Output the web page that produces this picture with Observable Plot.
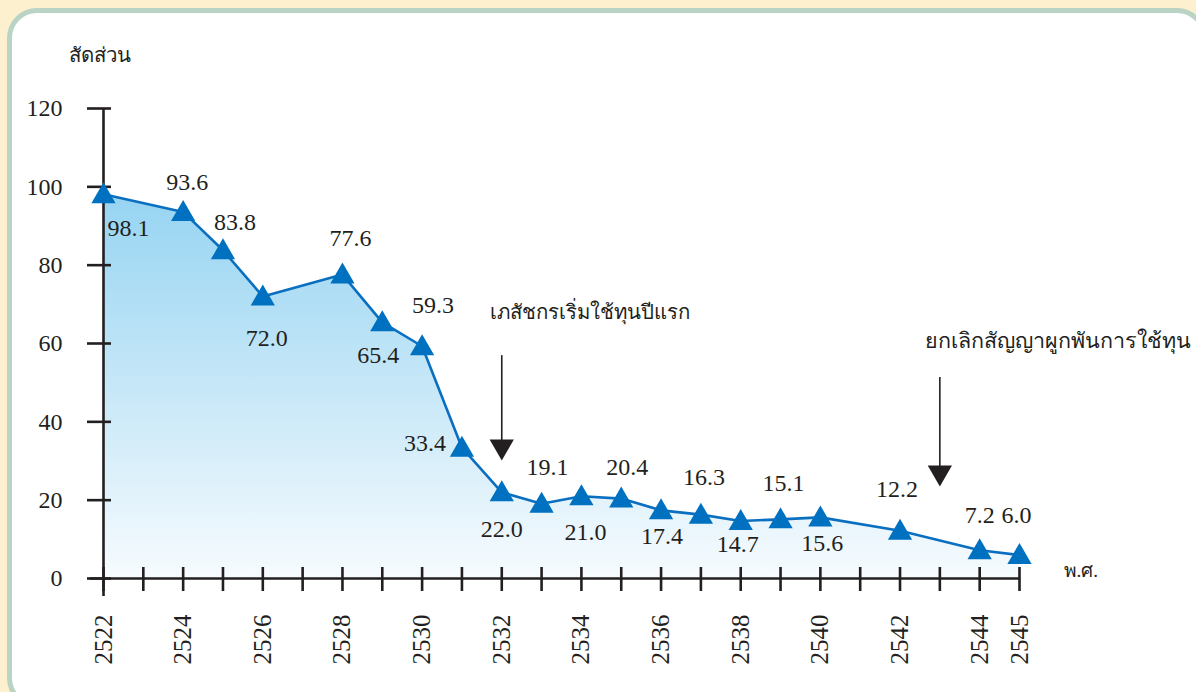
<!DOCTYPE html>
<html><head><meta charset="utf-8">
<script src="https://cdn.jsdelivr.net/npm/d3@7"></script>
<script src="https://cdn.jsdelivr.net/npm/@observablehq/plot@0.6"></script>
<style>
html,body{margin:0;padding:0;background:#fdf0cf;width:1196px;height:692px;overflow:hidden;}
#frame{position:absolute;left:7px;top:8px;width:1200px;height:700px;box-sizing:border-box;border:5px solid #b9d4c4;border-radius:30px;background:#fff;}
#chart{position:absolute;left:0;top:0;}
#chart svg{overflow:visible;}
#chart svg text{font-family:"Liberation Serif","DejaVu Serif",serif !important;}
</style></head><body><div id="frame"></div><div id="chart"></div>
<script>
// ---- data ----
const years  = [2522,2524,2525,2526,2528,2529,2530,2531,2532,2533,2534,2535,2536,2537,2538,2539,2540,2542,2544,2545];
const ratios = [98.1,93.6,83.8,72.0,77.6,65.4,59.3,33.4,22.0,19.1,21.0,20.4,17.4,16.3,14.7,15.1,15.6,12.2,7.2,6.0];
const yTicks = [0,20,40,60,80,100,120];
const xTickMarks = [2522,2523,2524,2525,2526,2527,2528,2529,2530,2531,2532,2533,2534,2535,2536,2537,2538,2539,2540,2541,2542,2543,2544,2545];
const xTickLabels = [2522,2524,2526,2528,2530,2532,2534,2536,2538,2540,2542,2544,2545];
const yTitle = "สัดส่วน";
const xTitle = "พ.ศ.";
const noteYears = [2532, 2543];
const noteTexts = ["เภสัชกรเริ่มใช้ทุนปีแรก", "ยกเลิกสัญญาผูกพันการใช้ทุน"];
const noteArrowTop = [56.9, 51.3];
const noteArrowTip = [30.1, 23.5];

// ---- layout (label offsets in px, per point) ----
const labelOffsets = [[25,34],[4,-30],[12,-28],[4,42],[8,-36],[-4,33],[11,-41],[-37,-4],[0,37],[6,-36],
  [4,36],[6,-31],[1,26],[3,-37],[-3,23],[3,-36],[2,26],[-3,-41],[0,-35],[-3,-40]];

const idx = years.map((_, i) => i);
const ink = "#231f20";
const blue = "#0a6fc0";

const gradient = () => {
  const defs = d3.create("svg:defs");
  const g = defs.append("linearGradient").attr("id", "areaGrad").attr("x1", 0).attr("y1", 0).attr("x2", 0).attr("y2", 1);
  g.append("stop").attr("offset", "0%").attr("stop-color", "#96d4f2");
  g.append("stop").attr("offset", "55%").attr("stop-color", "#cbe9f8");
  g.append("stop").attr("offset", "100%").attr("stop-color", "#f6fbfe");
  return defs.node();
};

const labelMarks = idx.map(i => Plot.text([i], {
  x: j => years[j], y: j => ratios[j], text: j => ratios[j].toFixed(1),
  dx: labelOffsets[i][0], dy: labelOffsets[i][1],
  fontSize: 24, fill: ink
}));

const noteIdx = [0, 1];

const chart = Plot.plot({
  width: 1196, height: 692,
  marginLeft: 103, marginRight: 177, marginTop: 108, marginBottom: 114,
  x: {domain: [2522, 2545], axis: null},
  y: {domain: [0, 120], axis: null},
  style: {background: "transparent", overflow: "visible"},
  marks: [
    gradient,
    Plot.areaY(idx, {x: i => years[i], y: i => ratios[i], fill: "url(#areaGrad)"}),
    Plot.ruleY([0], {stroke: ink, strokeWidth: 2.6, insetLeft: -13}),
    Plot.ruleX([2522], {stroke: ink, strokeWidth: 2.6, insetBottom: -18}),
    Plot.axisY(yTicks, {tickSize: 24, dx: 8, tickPadding: 25, stroke: ink, strokeWidth: 2.6, fill: ink,
      fontSize: 24, label: null}),
    Plot.axisX(xTickMarks, {tickSize: 24, dy: -11, stroke: ink, strokeWidth: 2.6, tickFormat: () => "", label: null}),
    Plot.axisX(xTickLabels, {tickSize: 0, tickRotate: -90, tickPadding: 36, fill: ink,
      fontSize: 25, tickFormat: d => String(d), label: null}),
    Plot.line(idx, {x: i => years[i], y: i => ratios[i], stroke: blue, strokeWidth: 2.6}),
    Plot.dot(idx, {x: i => years[i], y: i => ratios[i], symbol: "triangle", r: 9, dy: 2, fill: "#0070c0", stroke: null}),
    ...labelMarks,
    // annotations
    Plot.ruleX(noteIdx, {x: i => noteYears[i], y1: i => noteArrowTop[i], y2: i => noteArrowTip[i], stroke: ink, strokeWidth: 1.6, insetBottom: 12}),
    Plot.dot(noteIdx, {x: i => noteYears[i], y: i => noteArrowTip[i], symbol: "triangle", rotate: 180, r: 9, dy: -14, fill: ink, stroke: null}),
    Plot.text([0], {x: i => noteYears[i], y: 68, text: i => noteTexts[i], textAnchor: "start", dx: -12,
      fontSize: 20.4, fill: ink}),
    Plot.text([1], {x: 2549.3, y: 60.5, text: i => noteTexts[i], textAnchor: "end",
      fontSize: 21.5, fill: ink}),
    Plot.text([yTitle], {frameAnchor: "top-left", dx: -35, dy: -61, textAnchor: "start",
      fontSize: 20.4, fill: ink}),
    Plot.text([xTitle], {frameAnchor: "bottom-right", dx: 44, dy: -2, textAnchor: "start",
      fontSize: 19, fill: ink})
  ]
});
document.getElementById("chart").appendChild(chart);
</script>
</body></html>
